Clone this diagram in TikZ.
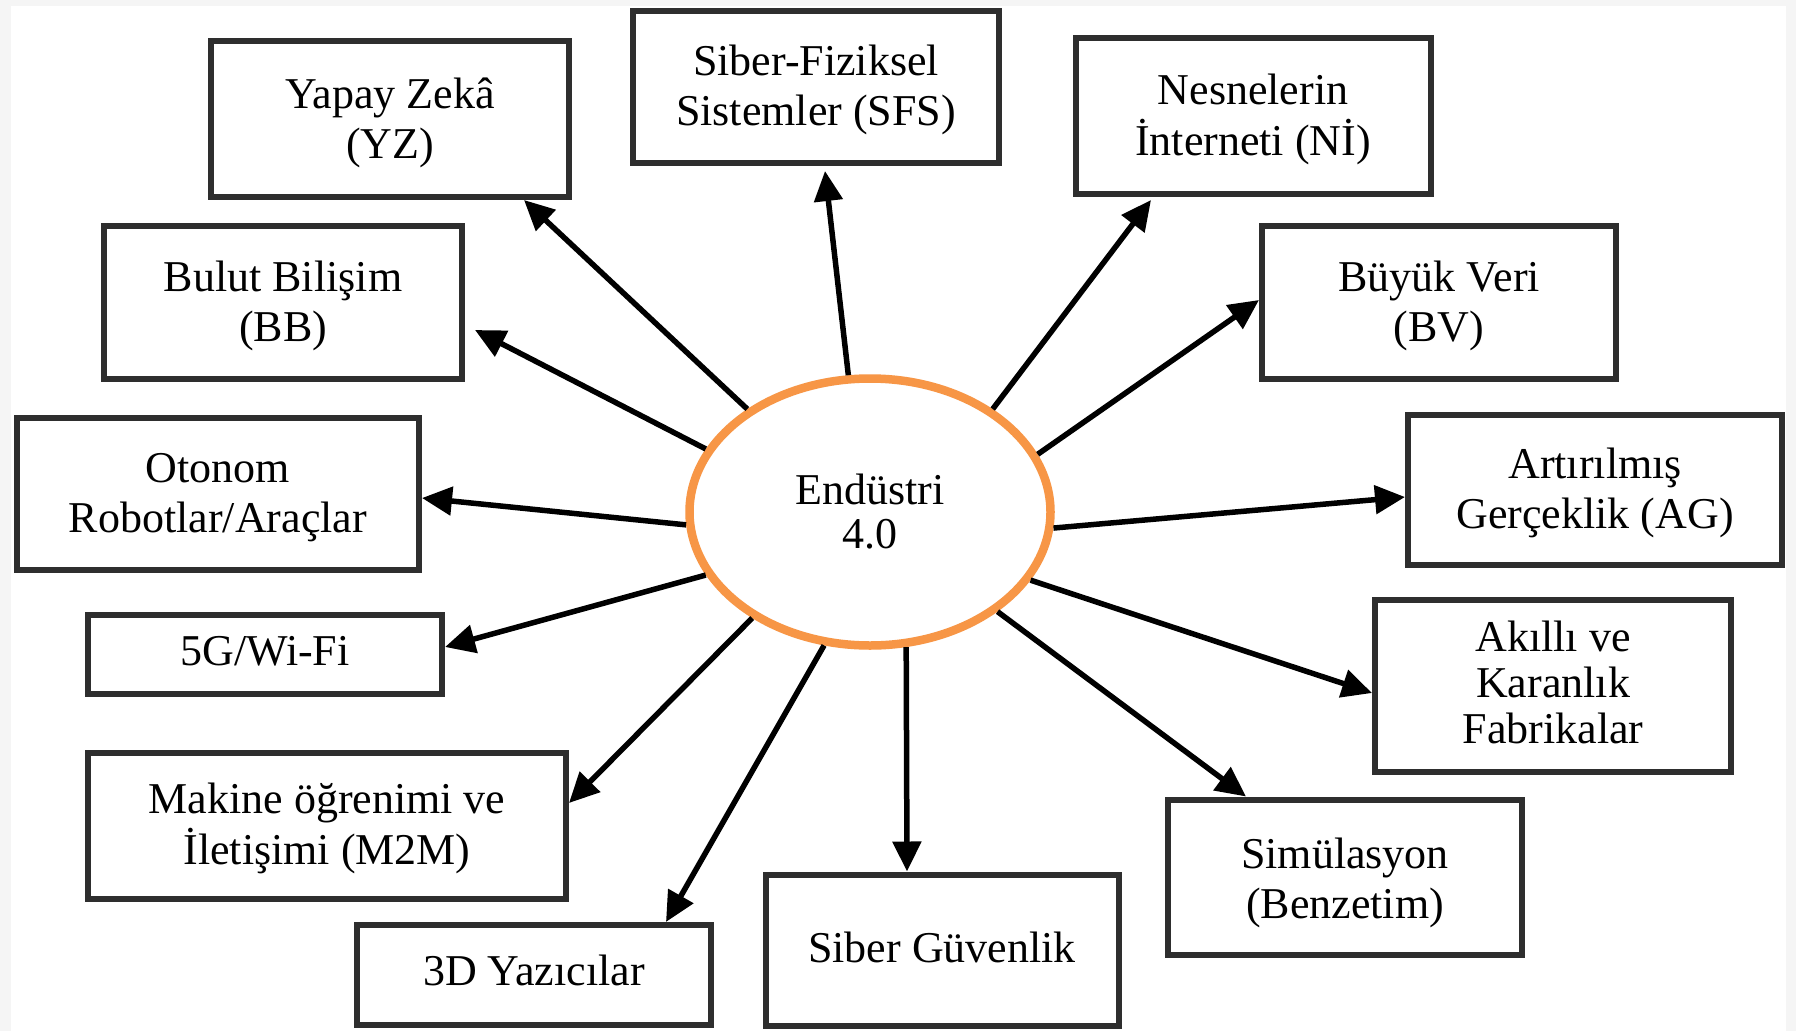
\documentclass[tikz,border=0pt]{standalone}
\usepackage{fontspec}
\setmainfont{Liberation Serif}
\usetikzlibrary{arrows.meta,shapes.geometric}
\definecolor{ringorange}{HTML}{F79646}
% centred lines of text, dropped a little below the node centre
\newcommand\boxtext[2][4pt]{\raisebox{-#1}[\height][\depth]{\begin{tabular}{@{}c@{}}#2\end{tabular}}}
\begin{document}
\begin{tikzpicture}[x=1pt,y=-1pt,
  box/.style={draw=black!82, line width=6pt, fill=white, inner sep=0pt,
    font=\fontsize{44}{50}\selectfont},
  arr/.style={-{Triangle[length=30pt,width=28pt]}, line width=5.5pt, black},
]
% page and frame
\fill[black!4] (0,0) rectangle (1796,1031);
\fill[white] (11,6) rectangle (1786,1031);
\useasboundingbox (0,0) rectangle (1796,1031);

% central ellipse
\node[ellipse, draw=ringorange, line width=8.5pt, fill=white, inner sep=0pt,
  minimum width=361pt, minimum height=267pt, align=center,
  font=\fontsize{44}{44}\selectfont] (E) at (870,512) {Endüstri\\4.0};

% surrounding boxes
\node[box, minimum width=358pt, minimum height=156pt] (yz)  at (390,119)   {\boxtext{Yapay Zekâ\\(YZ)}};
\node[box, minimum width=366pt, minimum height=152pt] (sfs) at (816,87)    {\boxtext[3pt]{Siber-Fiziksel\\Sistemler (SFS)}};
\node[box, minimum width=355pt, minimum height=156pt] (ni)  at (1253,116)  {\boxtext{Nesnelerin\\İnterneti (Nİ)}};
\node[box, minimum width=358pt, minimum height=153pt] (bb)  at (283,302)   {\boxtext{Bulut Bilişim\\(BB)}};
\node[box, minimum width=354pt, minimum height=153pt] (bv)  at (1439,302)  {\boxtext{Büyük Veri\\(BV)}};
\node[box, minimum width=402pt, minimum height=152pt] (ot)  at (218,494)   {\boxtext[3pt]{Otonom\\Robotlar/Araçlar}};
\node[box, minimum width=374pt, minimum height=150pt] (ag)  at (1595,490)  {\boxtext[3pt]{Artırılmış\\Gerçeklik (AG)}};
\node[box, minimum width=354pt, minimum height=79pt]  (g5)  at (265,654)   {\boxtext[1pt]{5G/Wi-Fi}};
\node[box, minimum width=356pt, minimum height=172pt, font=\fontsize{44}{46}\selectfont] (af) at (1553,686) {\boxtext[2pt]{Akıllı ve\\Karanlık\\Fabrikalar}};
\node[box, minimum width=478pt, minimum height=146pt] (mm)  at (327,826)   {\boxtext[3pt]{Makine öğrenimi ve\\İletişimi (M2M)}};
\node[box, minimum width=354pt, minimum height=155pt] (sim) at (1345,877)  {\boxtext[6pt]{Simülasyon\\(Benzetim)}};
\node[box, minimum width=354pt, minimum height=100pt] (d3)  at (534,975)   {\boxtext[0pt]{3D Yazıcılar}};
\node[box, minimum width=353pt, minimum height=151pt] (sg)  at (942,950)   {\boxtext[2pt]{Siber Güvenlik}};

% connectors from the centre
\draw[arr] (E.140.6) -- ([xshift=134pt]yz.south);
\draw[arr] (E.99.6)  -- ([xshift=9pt,yshift=-5pt]sfs.south);
\draw[arr] (E.40.7)  -- ([xshift=-102pt,yshift=-3pt]ni.south);
\draw[arr] (E.159.1) -- ([xshift=10pt,yshift=-28pt]bb.east);
\draw[arr] (E.19.5)  -- ([yshift=2pt]bv.west);
\draw[arr] (E.184.2) -- ([yshift=-4pt]ot.east);
\draw[arr] (E.355.2) -- ([yshift=-7pt]ag.west);
\draw[arr] (E.201.7) -- ([yshift=7pt]g5.east);
\draw[arr] (E.337.2) -- ([yshift=-7pt]af.west);
\draw[arr] (E.222)   -- ([yshift=23pt]mm.east);
\draw[arr] (E.322)   -- ([xshift=-99pt]sim.north);
\draw[arr] (E.251.7) -- ([xshift=132pt]d3.north);
\draw[arr] (E.285.2) -- ([xshift=-35pt]sg.north);
\end{tikzpicture}
\end{document}
